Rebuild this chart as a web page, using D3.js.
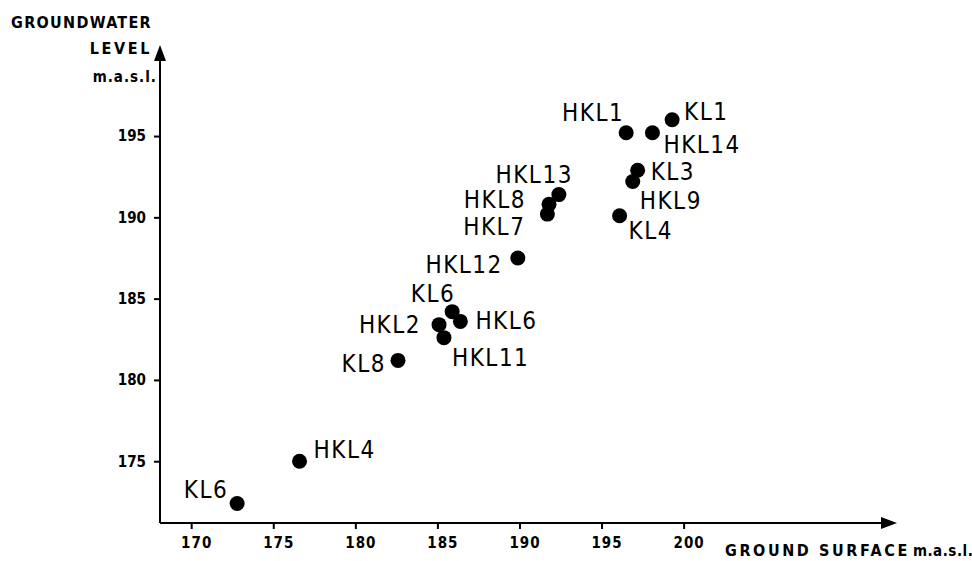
<!DOCTYPE html>
<html>
<head>
<meta charset="utf-8">
<script src="https://cdn.jsdelivr.net/npm/d3@7"></script>
<style>
    html, body { margin: 0; padding: 0; background: #fff; }
    svg { display: block; }
    .lbl { font-family: 'DejaVu Sans Condensed', 'DejaVu Sans', sans-serif; }
</style>
</head>
<body>
<svg id="chart-svg" width="972" height="561"></svg>
<script>
// data
const sites = ['KL1', 'HKL1', 'HKL14', 'KL3', 'HKL9', 'KL4', 'HKL13', 'HKL8', 'HKL7',
    'HKL12', 'KL6', 'HKL6', 'HKL2', 'HKL11', 'KL8', 'HKL4', 'KL6'];
const groundSurface = [199.3, 196.5, 198.1, 197.2, 196.9, 196.1, 192.4, 191.8, 191.7,
    189.9, 185.9, 186.4, 185.1, 185.4, 182.6, 176.6, 172.8];
const groundwaterLevel = [196.0, 195.2, 195.2, 192.9, 192.2, 190.1, 191.4, 190.8, 190.2,
    187.5, 184.2, 183.6, 183.4, 182.6, 181.2, 175.0, 172.4];
const xTicks = [170, 175, 180, 185, 190, 195, 200];
const yTicks = [175, 180, 185, 190, 195];

// label placement next to each dot: [anchor, dx, dy]
const labelPos = [
    ['start', 12, 0], ['end', -2, -12], ['start', 11, 20], ['start', 13, 10],
    ['start', 7, 27], ['start', 9, 23], ['end', 14, -12], ['end', -23, 4],
    ['end', -22, 21], ['end', -15, 15], ['end', 3, -10], ['start', 15, 8],
    ['end', -18, 8], ['start', 8, 28], ['end', -12, 12], ['start', 14, -3],
    ['end', -9, -5]
];

const svg = d3.select('#chart-svg');

const x = d3.scaleLinear().domain([168.1, 213]).range([160, 897]);
const y = d3.scaleLinear().domain([171.2, 200.6]).range([523, 45]);

const font = "'DejaVu Sans Condensed', 'DejaVu Sans', sans-serif";

// axes (ticks only, the lines are drawn with arrows below)
const xAxis = svg.append('g')
    .attr('transform', `translate(0,${y(171.2)})`)
    .call(d3.axisBottom(x).tickValues(xTicks).tickSize(6).tickPadding(8).tickFormat(d3.format('d')));
xAxis.select('.domain').remove();
xAxis.selectAll('line').attr('stroke', '#000').attr('stroke-width', 2);
xAxis.selectAll('text')
    .attr('dx', 5)
    .style('font-family', font)
    .style('font-size', '15px')
    .style('font-weight', 'bold')
    .style('letter-spacing', '1px')
    .style('fill', '#000');

const yAxis = svg.append('g')
    .attr('transform', `translate(${x(168.1)},0)`)
    .call(d3.axisLeft(y).tickValues(yTicks).tickSize(6).tickPadding(8).tickFormat(d3.format('d')));
yAxis.select('.domain').remove();
yAxis.selectAll('line').attr('stroke', '#000').attr('stroke-width', 2);
yAxis.selectAll('text')
    .style('font-family', font)
    .style('font-size', '15px')
    .style('font-weight', 'bold')
    .style('fill', '#000');

// axis lines with arrow heads
const x0 = x(168.1), y0 = y(171.2), xEnd = x(213), yEnd = y(200.6);
svg.append('line')
    .attr('x1', x0).attr('y1', y0).attr('x2', xEnd - 10).attr('y2', y0)
    .attr('stroke', '#000').attr('stroke-width', 2);
svg.append('line')
    .attr('x1', x0).attr('y1', y0).attr('x2', x0).attr('y2', yEnd + 10)
    .attr('stroke', '#000').attr('stroke-width', 2);
svg.append('path')
    .attr('d', `M${xEnd},${y0} L${xEnd - 16},${y0 - 6} L${xEnd - 16},${y0 + 6} Z`)
    .attr('fill', '#000');
svg.append('path')
    .attr('d', `M${x0},${yEnd} L${x0 - 6},${yEnd + 16} L${x0 + 6},${yEnd + 16} Z`)
    .attr('fill', '#000');

// axis titles
const yTitle = svg.append('g')
    .style('font-family', font)
    .style('font-weight', 'bold')
    .style('fill', '#000')
    .attr('text-anchor', 'end');
yTitle.append('text').attr('x', 152).attr('y', 28)
    .style('font-size', '16px').style('letter-spacing', '1.3px').text('GROUNDWATER');
yTitle.append('text').attr('x', 152).attr('y', 54)
    .style('font-size', '16px').style('letter-spacing', '2.6px').text('LEVEL');
yTitle.append('text').attr('x', 157).attr('y', 82)
    .style('font-size', '15px').style('letter-spacing', '1px').text('m.a.s.l.');

const xTitle = svg.append('text')
    .attr('x', 725).attr('y', 556)
    .style('font-family', font)
    .style('font-weight', 'bold')
    .style('fill', '#000');
xTitle.append('tspan').style('font-size', '16px').style('letter-spacing', '2.6px').text('GROUND SURFACE');
xTitle.append('tspan').attr('dx', 3).style('font-size', '15px').style('letter-spacing', '0.5px').text('m.a.s.l.');

// points
const points = sites.map((s, i) => ({ name: s, gs: groundSurface[i], gw: groundwaterLevel[i], pos: labelPos[i] }));

svg.append('g')
    .selectAll('circle')
    .data(points)
    .enter()
    .append('circle')
    .attr('cx', d => x(d.gs))
    .attr('cy', d => y(d.gw))
    .attr('r', 7.5)
    .attr('fill', '#000');

svg.append('g')
    .selectAll('text')
    .data(points)
    .enter()
    .append('text')
    .attr('class', 'lbl')
    .attr('x', d => x(d.gs) + d.pos[1])
    .attr('y', d => y(d.gw) + d.pos[2])
    .attr('text-anchor', d => d.pos[0])
    .style('font-size', '24px')
    .style('letter-spacing', '1.5px')
    .style('fill', '#000')
    .text(d => d.name);
</script>
</body>
</html>
